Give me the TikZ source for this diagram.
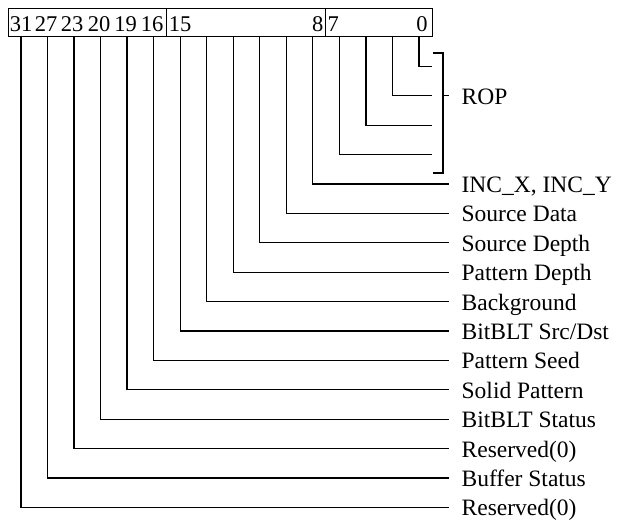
\documentclass[tikz,border=0pt]{standalone}
\usepackage{fontspec}
\setmainfont{Liberation Serif}
\usetikzlibrary{positioning}
\begin{document}
\begin{tikzpicture}[
    x=1pt, y=-1pt,
    line width=1.3pt,
    cell/.style={draw, line width=1.3pt, anchor=north west, minimum height=28pt, inner sep=0pt},
    bitnum/.style={anchor=base, inner sep=0pt, font=\fontsize{22.5}{27}\selectfont},
    field/.style={anchor=west, inner xsep=12pt, inner ysep=0pt, text height=17pt, text depth=0pt, font=\fontsize{23.5}{28}\selectfont}
  ]
  \useasboundingbox (0,0) rectangle (618,521);
  % register cells
  \node [cell, minimum width=158pt] (hi) at (8,8) {};
  \node [cell, minimum width=159pt] (mid) at (166,8) {};
  \node [cell, minimum width=107pt] (lo) at (325,8) {};
  % bit numbers
  \foreach \n/\x in {31/21, 27/46, 23/72, 20/99, 19/125.5, 16/152, 15/180, 0/422}
    \node [bitnum] (n\n) at (\x,31.7) {\n};
  \node [bitnum, anchor=base east] (n8) at (324,31.7) {8};
  \node [bitnum, anchor=base west] (n7) at (327,31.7) {7};
  % bit line tops
  \foreach \i in {0,...,15}
    \coordinate (t\i) at ({21+26.53*\i},36);
  % field labels
  \foreach \k/\txt in {0/{INC\_X, INC\_Y}, 1/{Source Data}, 2/{Source Depth}, 3/{Pattern Depth},
      4/{Background}, 5/{BitBLT Src/Dst}, 6/{Pattern Seed}, 7/{Solid Pattern},
      8/{BitBLT Status}, 9/{Reserved(0)}, 10/{Buffer Status}, 11/{Reserved(0)}}
    \node [field] (l\k) at (449,{184+29.4*\k}) {\txt};
  \foreach \k in {0,...,11} {
    \pgfmathtruncatemacro\i{11-\k}
    \draw (t\i) |- (l\k.west);
  }
  % ROP bits
  \foreach \j in {0,...,3} {
    \pgfmathtruncatemacro\i{15-\j}
    \coordinate (r\j) at (432,{184-29.4*(4-\j)});
    \draw (t\i) |- (r\j);
  }
  \coordinate (bt) at (443,53);
  \coordinate (bb) at (443,173);
  \coordinate (btl) at (433,53);
  \coordinate (bbl) at (433,173);
  \coordinate (bm) at (443,95.8);
  \node [field] (rop) at (449,95.8) {ROP};
  \draw (btl) -- (bt) -- (bb) -- (bbl);
  \draw (bm) -- (rop.west);
\end{tikzpicture}
\end{document}
